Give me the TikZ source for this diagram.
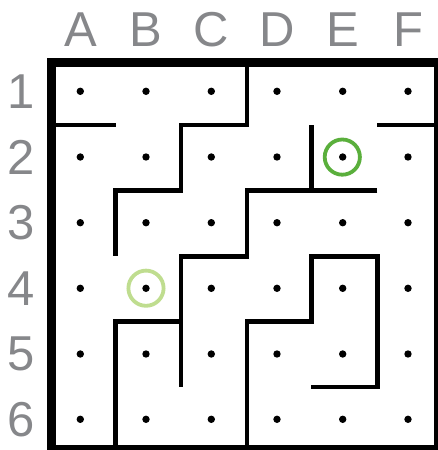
\documentclass[tikz,border=0pt]{standalone}
\usepackage{fontspec}
\setmainfont{Liberation Sans}
\definecolor{lblgray}{HTML}{86878A}
\definecolor{goalgreen}{HTML}{5AAF3C}
\definecolor{startgreen}{HTML}{BFDD8F}
\begin{document}
\begin{tikzpicture}[x=1pt,y=-1pt,
  lbl/.style={text=lblgray,font=\fontsize{49}{49}\selectfont,inner sep=0pt,anchor=center},
  wall/.style={line width=4.6pt,line cap=butt,line join=miter},
  border/.style={line width=8.5pt,line join=miter},
  spot/.style={fill=black},
  ring/.style={line width=3.8pt}]
\useasboundingbox (0,0) rectangle (438,450);
\clip (0,0) rectangle (438,450);
% grid line positions
\def\xa{51.7}\def\xb{115.7}\def\xc{181}\def\xd{247}\def\xe{311.3}\def\xf{377.3}\def\xg{442.3}
\def\ya{62.5}\def\yb{125}\def\yc{190.3}\def\yd{256.3}\def\ye{321.7}\def\yf{387}\def\yg{449.3}
% column / row labels
\foreach \c/\x in {A/80.8,B/146.2,C/211.5,D/277,E/342.5,F/408}
  \node[lbl] (col\c) at (\x,29.2) {\c};
\foreach \r/\y in {1/91.5,2/157.2,3/222.8,4/288.4,5/354,6/419.5}
  \node[lbl] (row\r) at (21,\y) {\r};
% dots
\foreach \x in {80.3,146,211.3,277,342.7,408}
  \foreach \y in {91.3,157,222.7,288.3,354,419.3}
    \fill[spot] (\x,\y) circle (3.7);
% rings
\draw[ring,goalgreen] (342.3,157.1) circle (17.6);
\draw[ring,startgreen] (146,288.2) circle (17.6);
% outer border
\draw[border] (\xa,\ya) rectangle (438,\yg);
% walls
\draw[wall] (\xa,\yb) -- (\xb,\yb);
\draw[wall] (\xd,\ya) -- (\xd,\yb) -- (\xc,\yb) -- (\xc,\yc) -- (\xb,\yc) -- (\xb,\yd);
\draw[wall] (\xf,\yb) -- (\xg,\yb);
\draw[wall] (\xe,\yb) -- (\xe,\yc);
\draw[wall] (\xf,\yc) -- (\xd,\yc) -- (\xd,\yd) -- (\xc,\yd) -- (\xc,\yf);
\draw[wall] (\xb,\yg) -- (\xb,\ye) -- (\xc,\ye);
\draw[wall] (\xd,\yg) -- (\xd,\ye) -- (\xe,\ye) -- (\xe,\yd) -- (\xf,\yd) -- (\xf,\yf) -- (\xe,\yf);
\end{tikzpicture}
\end{document}
